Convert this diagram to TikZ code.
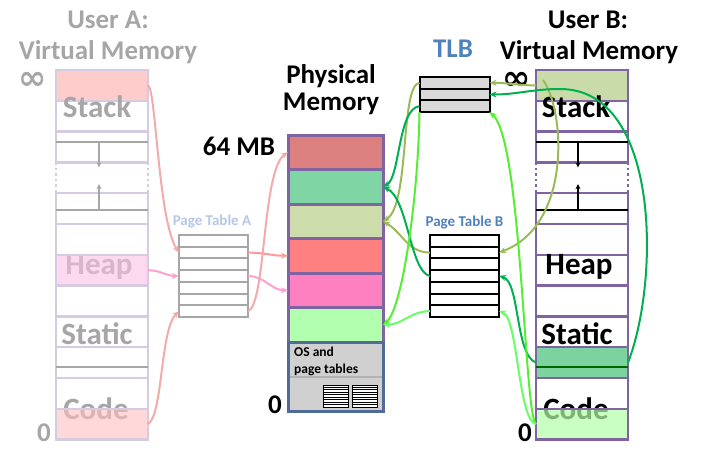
\documentclass[tikz,border=0pt]{standalone}
\usepackage{fontspec}
\setmainfont{Carlito}
\newfontfamily\symbolfont{DejaVu Sans}
\usetikzlibrary{arrows.meta}
\definecolor{vmpurple}{HTML}{8064A2}
\definecolor{vmfaded}{HTML}{D5CBE3}
\definecolor{vmgray}{HTML}{A6A6A6}
\definecolor{tlbblue}{HTML}{4F81BD}
\definecolor{ptablue}{HTML}{B4C7E7}
\definecolor{olive}{HTML}{9BBB59}
\definecolor{dgreen}{HTML}{00B050}
\definecolor{lgreen}{HTML}{55EE33}
\definecolor{lgreentwo}{HTML}{66FF66}
\definecolor{asalmon}{HTML}{F4AAAA}
\definecolor{apink}{HTML}{FFA0D0}
\definecolor{ared}{HTML}{FF9999}
\tikzset{
  segA/.style={draw=vmfaded, line width=2.5pt, minimum width=92pt, minimum height=30.8pt, inner sep=0pt, outer sep=0pt},
  segB/.style={segA, draw=vmpurple},
  pseg/.style={draw=vmpurple, line width=3pt, minimum width=95pt, minimum height=34.5pt, inner sep=0pt, outer sep=0pt},
  ptrow/.style={draw, line width=2pt, minimum width=69pt, minimum height=11.7pt, inner sep=0pt, outer sep=0pt},
  big/.style={font=\fontsize{27}{30}\selectfont\bfseries, inner sep=0pt, anchor=base},
  vlabel/.style={font=\fontsize{31}{32}\selectfont\bfseries, inner sep=0pt, anchor=base},
  inner/.style={line width=2pt},
  growarrow/.style={line width=1.5pt, -{Stealth[length=5pt,width=5pt]}},
  conn/.style={-{Stealth[length=7pt,width=6pt]}, line width=2pt}
}
\begin{document}
\begin{tikzpicture}[x=1pt,y=-1pt]
  \useasboundingbox (0,0) rectangle (701,455);

  % user A
  \node[big, vmgray] (titleA) at (108,28) {User A:};
  \node[big, vmgray] (vmA) at (108,59) {Virtual Memory};
  \node[segA, fill=red!20] (a1) at (102,85.4) {};
  \node[segA] (a2) at (102,116.2) {};
  \node[segA] (a3) at (102,147) {};
  \node[inner sep=0pt, outer sep=0pt, minimum width=92pt, minimum height=30.8pt] (a4) at (102,177.8) {};
  \node[segA] (a5) at (102,208.6) {};
  \node[segA] (a6) at (102,239.4) {};
  \node[segA] (a8) at (102,301) {};
  \node[segA] (a9) at (102,331.8) {};
  \node[segA] (a10) at (102,362.6) {};
  \node[segA] (a11) at (102,393.4) {};
  \draw[vmfaded, line width=2.5pt, dash pattern=on 2.5pt off 3pt] (a4.north west) -- (a4.south west) (a4.north east) -- (a4.south east);
  \draw[inner, vmgray] ([yshift=-10.4pt]a3.north west) -- ([yshift=-10.4pt]a3.north east);
  \draw[growarrow, vmgray] ([xshift=-3pt,yshift=-10.4pt]a3.north) -- ([xshift=-3pt,yshift=-5pt]a3.south);
  \draw[inner, vmgray] ([yshift=-16.8pt]a5.north west) -- ([yshift=-16.8pt]a5.north east);
  \draw[growarrow, vmgray] ([xshift=-3pt,yshift=-16.8pt]a5.north) -- ([xshift=-3pt,yshift=9pt]a5.north);
  \draw[inner, vmgray] ([yshift=-19.8pt]a10.north west) -- ([yshift=-19.8pt]a10.north east);
  \node[vlabel, vmgray] (stackA) at (97,117) {Stack};
  \node[vlabel, vmgray] (heapA) at (99,274) {Heap};
  \node[vlabel, vmgray] (staticA) at (97,344) {Static};
  \node[vlabel, vmgray] (codeA) at (96,419) {Code};
  \node[segA, fill=magenta!25, fill opacity=0.6] (a7) at (102,270.2) {};
  \node[segA, fill=red!25, fill opacity=0.6] (a12) at (102,424.2) {};
  \node[vmgray, font=\fontsize{34}{34}\selectfont\symbolfont\bfseries, inner sep=0pt] (infA) at (33,81) {∞};
  \node[big, vmgray] (zeroA) at (44,441.5) {0};

  % page table A
  \node[font=\fontsize{15}{16}\selectfont\bfseries, text=ptablue, inner sep=0pt, anchor=base] (ptAlabel) at (212,225) {Page Table A};
  \node[ptrow, draw=vmgray] (ta1) at (213.5,240.9) {};
  \node[ptrow, draw=vmgray] (ta2) at (213.5,252.6) {};
  \node[ptrow, draw=vmgray] (ta3) at (213.5,264.3) {};
  \node[ptrow, draw=vmgray] (ta4) at (213.5,276) {};
  \node[ptrow, draw=vmgray] (ta5) at (213.5,287.7) {};
  \node[ptrow, draw=vmgray] (ta6) at (213.5,299.4) {};
  \node[ptrow, draw=vmgray] (ta7) at (213.5,311.1) {};

  % physical memory
  \node[big] (physT) at (331,83) {Physical};
  \node[big] (physM) at (331,110) {Memory};
  \node[big] (top) at (239,155) {64 MB};
  \node[pseg, fill={rgb,255:red,220;green,127;blue,127}] (p1) at (335.5,152.25) {};
  \node[pseg, fill={rgb,255:red,127;green,213;blue,163}] (p2) at (335.5,186.75) {};
  \node[pseg, fill={rgb,255:red,205;green,220;blue,171}] (p3) at (335.5,221.25) {};
  \node[pseg, fill={rgb,255:red,255;green,128;blue,128}] (p4) at (335.5,255.75) {};
  \node[pseg, fill={rgb,255:red,255;green,128;blue,192}] (p5) at (335.5,290.25) {};
  \node[pseg, fill={rgb,255:red,179;green,255;blue,176}] (p6) at (335.5,324.75) {};
  \node[pseg, draw={rgb,255:red,79;green,107;blue,150}, fill={rgb,255:red,208;green,208;blue,208}, minimum height=69pt] (os) at (335.5,376.5) {};
  \draw[line width=2pt, gray!60] ([xshift=1.5pt]os.west) -- ([xshift=-1.5pt]os.east);
  \node[font=\fontsize{13.5}{17}\selectfont\bfseries, align=left, inner sep=0pt, anchor=north west] (oslabel) at (294,346.5) {OS and\\page tables};
  \node[draw, line width=0.8pt, fill=white, minimum width=25pt, minimum height=22.5pt, inner sep=0pt] (osptA) at (335.5,396.25) {};
  \node[draw, line width=0.8pt, fill=white, minimum width=25pt, minimum height=22.5pt, inner sep=0pt] (osptB) at (364.5,396.25) {};
  \foreach \k in {2.5,5,...,20} {
    \draw[line width=0.8pt] ([yshift=-\k pt]osptA.north west) -- ([yshift=-\k pt]osptA.north east);
    \draw[line width=0.8pt] ([yshift=-\k pt]osptB.north west) -- ([yshift=-\k pt]osptB.north east);
  }
  \node[big] (zeroP) at (275,413) {0};

  % TLB and page table B
  \node[font=\fontsize{27}{28}\selectfont\bfseries, text=tlbblue, inner sep=0pt, anchor=base] (tlblabel) at (453,57) {TLB};
  \node[ptrow, fill=gray!30, minimum width=70pt] (tl1) at (454.5,82.8) {};
  \node[ptrow, fill=gray!30, minimum width=70pt] (tl2) at (454.5,94.5) {};
  \node[ptrow, fill=gray!30, minimum width=70pt] (tl3) at (454.5,106.2) {};
  \node[font=\fontsize{15}{16}\selectfont\bfseries, text=tlbblue, inner sep=0pt, anchor=base] (ptBlabel) at (464.5,226) {Page Table B};
  \node[ptrow] (tb1) at (464.5,240.9) {};
  \node[ptrow] (tb2) at (464.5,252.6) {};
  \node[ptrow] (tb3) at (464.5,264.3) {};
  \node[ptrow] (tb4) at (464.5,276) {};
  \node[ptrow] (tb5) at (464.5,287.7) {};
  \node[ptrow] (tb6) at (464.5,299.4) {};
  \node[ptrow] (tb7) at (464.5,311.1) {};

  % user B
  \node[big] (titleB) at (588,28) {User B:};
  \node[big] (vmB) at (589,59) {Virtual Memory};
  \node[segB, fill={rgb,255:red,201;green,219;blue,169}] (b1) at (582,85.4) {};
  \node[segB] (b2) at (582,116.2) {};
  \node[segB] (b3) at (582,147) {};
  \node[inner sep=0pt, outer sep=0pt, minimum width=92pt, minimum height=30.8pt] (b4) at (582,177.8) {};
  \node[segB] (b5) at (582,208.6) {};
  \node[segB] (b6) at (582,239.4) {};
  \node[segB] (b7) at (582,270.2) {};
  \node[segB] (b8) at (582,301) {};
  \node[segB] (b9) at (582,331.8) {};
  \node[segB, fill={rgb,255:red,125;green,211;blue,160}] (b10) at (582,362.6) {};
  \node[segB] (b11) at (582,393.4) {};
  \draw[vmpurple, line width=2.5pt, dash pattern=on 2.5pt off 3pt] (b4.north west) -- (b4.south west) (b4.north east) -- (b4.south east);
  \draw[inner] ([yshift=-10.4pt]b3.north west) -- ([yshift=-10.4pt]b3.north east);
  \draw[growarrow] ([xshift=-4pt,yshift=-10.4pt]b3.north) -- ([xshift=-4pt,yshift=-5pt]b3.south);
  \draw[inner] ([yshift=-16.8pt]b5.north west) -- ([yshift=-16.8pt]b5.north east);
  \draw[growarrow] ([xshift=-4pt,yshift=-16.8pt]b5.north) -- ([xshift=-4pt,yshift=9pt]b5.north);
  \draw[inner, green!40!black] ([yshift=-19.8pt]b10.north west) -- ([yshift=-19.8pt]b10.north east);
  \node[vlabel] (stackB) at (576,117) {Stack};
  \node[vlabel] (heapB) at (579,274) {Heap};
  \node[vlabel] (staticB) at (577,344) {Static};
  \node[vlabel] (codeB) at (576,419) {Code};
  \node[segB, fill={rgb,255:red,179;green,255;blue,170}, fill opacity=0.7] (b12) at (582,424.2) {};
  \node[font=\fontsize{34}{34}\selectfont\symbolfont\bfseries, inner sep=0pt] (infB) at (517,81) {∞};
  \node[big] (zeroB) at (525,441) {0};

  % user A mappings
  \draw[conn, asalmon] (a1.east) .. controls (156,88) and (158,220) .. (ta2.west);
  \draw[conn, apink] (a7.east) to[out=0,in=180] (ta4.west);
  \draw[conn, asalmon] (a12.east) .. controls (163,415) and (160,330) .. (ta7.west);
  \draw[conn, ared] (ta2.east) to[out=0,in=180] (p4.west);
  \draw[conn, apink] (ta4.east) to[out=0,in=180] (p5.west);
  \draw[conn, asalmon] (ta7.east) .. controls (266,305) and (262,170) .. (p1.west);

  % user B mappings
  \coordinate (bstk) at (543,80);
  \draw[conn, olive] (b1.west) to[out=180,in=0] (tl1.east);
  \draw[conn, olive] (bstk) .. controls (565,110) and (572,225) .. (tb2.east);
  \draw[conn, olive] (tl1.west) .. controls (400,85) and (410,205) .. (p3.east);
  \draw[conn, olive] (tb2.west) to[out=180,in=-30] (p3.east);
  \draw[conn, dgreen] (b10.west) .. controls (515,355) and (520,282) .. (tb4.east);
  \draw[conn, dgreen] (b10.east) .. controls (660,280) and (660,89) .. (560,89) to[out=180,in=0] (tl2.east);
  \draw[conn, dgreen] (tl3.west) .. controls (398,108) and (400,178) .. (p2.east);
  \draw[conn, dgreen] (tb4.west) .. controls (410,272) and (408,198) .. (p2.east);
  \draw[conn, lgreen] (b12.west) .. controls (524,415) and (522,140) .. (tl3.south east);
  \draw[conn, lgreentwo] (b12.west) .. controls (518,420) and (518,318) .. (tb7.east);
  \draw[conn, lgreen] (tl3.south west) .. controls (418,200) and (402,310) .. (p6.east);
  \draw[conn, lgreentwo] (tb7.west) to[out=180,in=0] (p6.east);
\end{tikzpicture}
\end{document}
